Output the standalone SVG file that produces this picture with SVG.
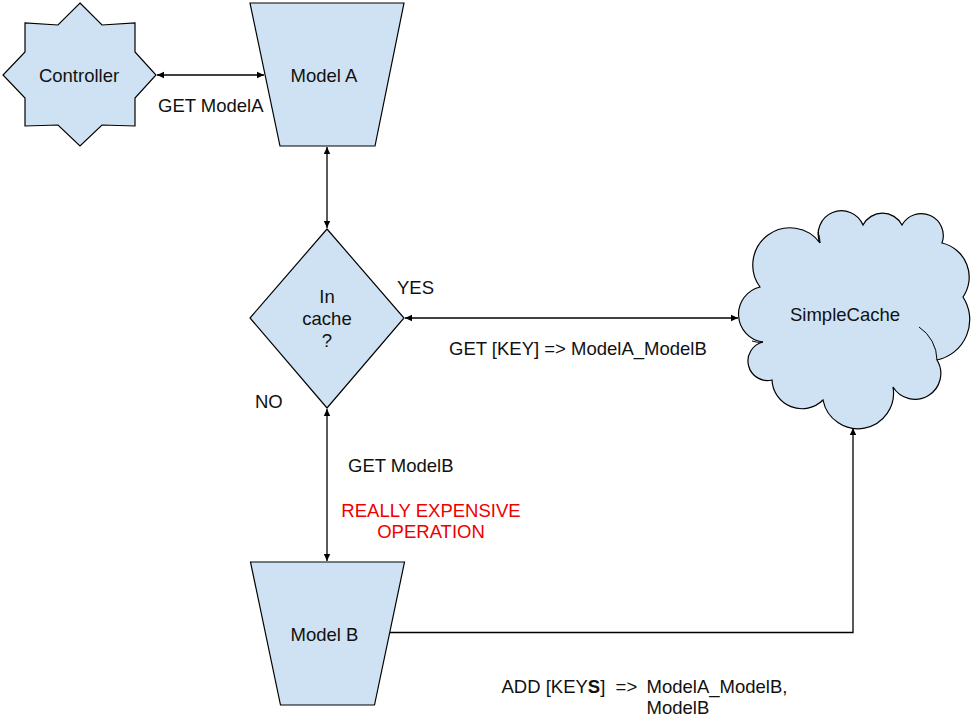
<svg xmlns="http://www.w3.org/2000/svg" width="971" height="720" viewBox="0 0 971 720">
<style>
.shape{fill:#cfe2f3;stroke:#000;stroke-width:1.2;stroke-linejoin:miter}
.inner{fill:none;stroke:#000;stroke-width:1}
.conn{fill:none;stroke:#000;stroke-width:1.3}
text{font-family:"Liberation Sans",Arial,sans-serif;font-size:18.5px;fill:#111}
.red{fill:#ee0000}
.mid{text-anchor:middle}
</style>
<defs>
<marker id="ah" markerWidth="8" markerHeight="8" refX="7" refY="4" orient="auto-start-reverse" markerUnits="userSpaceOnUse">
<path d="M0,0.8 L7,4 L0,7.2 Z" fill="#000"/>
</marker>
</defs>
<rect width="971" height="720" fill="#fff"/>
<g id="controller">
<polygon class="shape" points="80,3 102,25 135,23 135,52 156,75 135,98 135,126 102,125 80,146 58,125 25,126 25,98 3,75 25,52 25,23 58,25"/>
<text class="mid" x="79" y="82">Controller</text>
</g>
<g id="modelA">
<polygon class="shape" points="250,3 404,3 375,146 280,146"/>
<text class="mid" x="324" y="82">Model A</text>
</g>
<g id="incache">
<polygon class="shape" points="327,229 404,318 327,408 250,318"/>
<text class="mid" x="327" y="303">In</text>
<text class="mid" x="327" y="325">cache</text>
<text class="mid" x="327" y="347">?</text>
</g>
<g id="simplecache">
<path class="shape" d="M760,287 A37,37 0 0 1 820,243 A23.3,23.3 0 0 1 863,225 A22,22 0 0 1 902,225 A22,22 0 0 1 942,243 A35,35 0 0 1 963,297 A41.3,41.3 0 0 1 937,360 A25.8,25.8 0 0 1 893,387 A35.6,35.6 0 0 1 823,400 A29.9,29.9 0 0 1 772,380 A19.5,19.5 0 0 1 763,342 A28,28 0 0 1 760,287 Z"/>
<path class="inner" d="M919,327 A40,40 0 0 1 937,360"/>
<path class="inner" d="M752,341 A20,20 0 0 0 763,342"/>
<path class="inner" d="M818,232 A30,30 0 0 1 820,243"/>
<text x="790" y="321">SimpleCache</text>
</g>
<g id="modelB">
<polygon class="shape" points="250.5,562 404.5,562 374.5,705 280.5,705"/>
<text class="mid" x="324.5" y="641">Model B</text>
</g>
<g id="connectors">
<line class="conn" x1="157" y1="75" x2="264" y2="75" marker-start="url(#ah)" marker-end="url(#ah)"/>
<line class="conn" x1="327" y1="147" x2="327" y2="228" marker-start="url(#ah)" marker-end="url(#ah)"/>
<line class="conn" x1="405" y1="318" x2="738" y2="318" marker-start="url(#ah)" marker-end="url(#ah)"/>
<line class="conn" x1="327" y1="409" x2="327" y2="561" marker-start="url(#ah)" marker-end="url(#ah)"/>
<polyline class="conn" points="390,632.5 853,632.5 853,428" marker-end="url(#ah)"/>
</g>
<g id="labels">
<text x="158" y="112">GET ModelA</text>
<text x="397" y="294">YES</text>
<text x="449" y="355">GET [KEY] =&gt; ModelA_ModelB</text>
<text x="255" y="408">NO</text>
<text x="348" y="472">GET ModelB</text>
<text class="mid red" x="431" y="517">REALLY EXPENSIVE</text>
<text class="mid red" x="431" y="538">OPERATION</text>
<text x="501.5" y="693" xml:space="preserve">ADD [KEY<tspan font-weight="bold">S</tspan>]  =&gt; </text>
<text x="646.5" y="693">ModelA_ModelB,</text>
<text x="646.5" y="713.5">ModelB</text>
</g>
</svg>
